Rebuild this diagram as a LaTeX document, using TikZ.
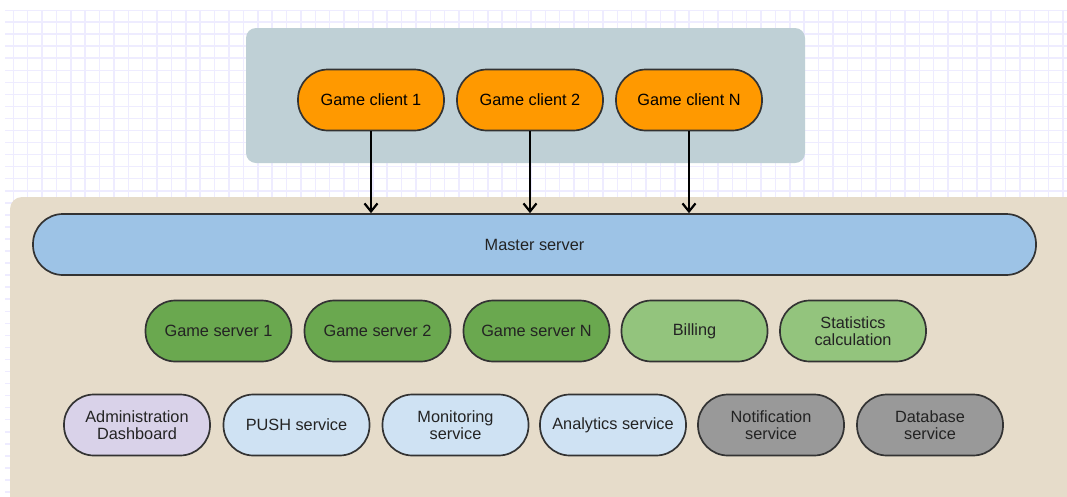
\documentclass[tikz,border=0pt]{standalone}
\usepackage{fontspec}
\setmainfont{Liberation Sans}
\usetikzlibrary{arrows.meta}
\definecolor{gridc}{RGB}{238,236,255}
\definecolor{topc}{RGB}{191,208,214}
\definecolor{beigec}{RGB}{230,220,202}
\definecolor{edgec}{RGB}{51,51,51}
\definecolor{txtc}{RGB}{35,35,35}
\definecolor{orangec}{RGB}{255,153,0}
\definecolor{masterc}{RGB}{157,195,230}
\definecolor{dgreen}{RGB}{106,168,79}
\definecolor{lgreen}{RGB}{147,196,125}
\definecolor{lblue}{RGB}{207,226,243}
\definecolor{lilac}{RGB}{217,210,233}
\definecolor{grayc}{RGB}{153,153,153}
\begin{document}
\begin{tikzpicture}[x=1pt,y=-1pt,
  pill/.style={draw=edgec, line width=1.7pt, rounded corners=30pt, minimum width=146pt, minimum height=61pt, inner sep=0pt, align=center, font=\fontsize{16.3}{17.5}\selectfont, text=txtc},
  conn/.style={line width=2.2pt, -{Straight Barb[length=8pt,width=13pt,line width=2.2pt]}}]
\useasboundingbox (0,0) rectangle (1067,496);
\clip (0,0) rectangle (1067,496);
\fill[white] (0,0) rectangle (1067,496);
\begin{scope}
\clip (5,10) rectangle (1067,496);
\foreach \i in {0,...,73} \draw[gridc, line width=1.5pt] ({13.3+14.38*\i},10) -- ({13.3+14.38*\i},496);
\foreach \j in {0,...,40} \draw[gridc, line width=1.5pt] (5,{10+12.05*\j}) -- (1067,{10+12.05*\j});
\end{scope}
\fill[topc, rounded corners=10pt] (246,28) rectangle (805,163);
\fill[beigec, rounded corners=12pt] (10,197) rectangle (1090,520);
\node[pill, fill=orangec, text=black] (gc1) at (371,100) {Game client 1};
\node[pill, fill=orangec, text=black] (gc2) at (530,100) {Game client 2};
\node[pill, fill=orangec, text=black] (gcn) at (689,100) {Game client N};
\node[pill, fill=masterc, minimum width=1003pt] (ms) at (534.5,244.5) {Master server};
\node[pill, fill=dgreen] (gs1) at (218.5,331) {Game server 1};
\node[pill, fill=dgreen] (gs2) at (377.5,331) {Game server 2};
\node[pill, fill=dgreen] (gsn) at (536.5,331) {Game server N};
\node[pill, fill=lgreen] (bill) at (694.5,331) {Billing};
\node[pill, fill=lgreen] (stat) at (853,331) {Statistics\\calculation};
\node[pill, fill=lilac] (adm) at (137,425) {Administration\\Dashboard};
\node[pill, fill=lblue] (push) at (296.5,425) {PUSH service};
\node[pill, fill=lblue] (mon) at (455.5,425) {Monitoring\\service};
\node[pill, fill=lblue] (ana) at (613,425) {Analytics service};
\node[pill, fill=grayc] (notif) at (771,425) {Notification\\service};
\node[pill, fill=grayc] (db) at (930,425) {Database\\service};
\draw[conn] (gc1.south) -- (gc1.south |- ms.north);
\draw[conn] (gc2.south) -- (gc2.south |- ms.north);
\draw[conn] (gcn.south) -- (gcn.south |- ms.north);
\end{tikzpicture}
\end{document}
